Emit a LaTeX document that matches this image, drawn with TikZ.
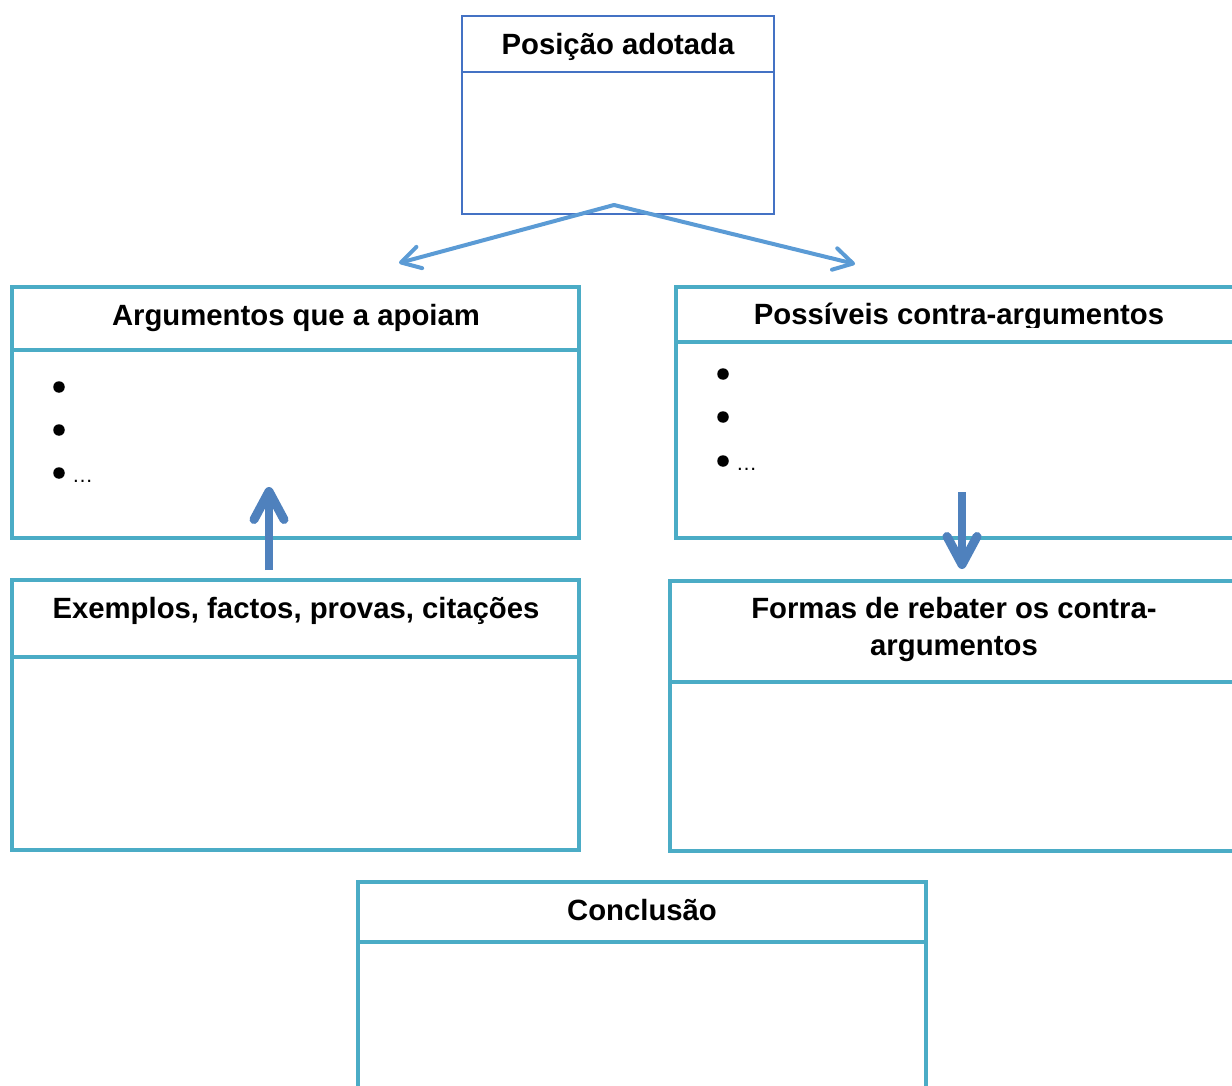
\documentclass[tikz,border=0pt]{standalone}
\usepackage{fontspec}
\setmainfont{Liberation Sans}
\usetikzlibrary{arrows.meta}
\definecolor{cyanb}{HTML}{4BACC6}
\definecolor{blueb}{HTML}{4472C4}
\definecolor{arrowl}{HTML}{5B9BD5}
\definecolor{arrowd}{HTML}{4F81BD}
\tikzset{
  cbox/.style={draw=cyanb, line width=4pt, rectangle, anchor=north west, inner sep=0pt, outer sep=0pt},
  bbox/.style={draw=blueb, line width=2.5pt, rectangle, anchor=north west, inner sep=0pt, outer sep=0pt},
  hline/.style={draw=cyanb, line width=4pt},
  hdr/.style={font=\fontsize{29.3}{37}\selectfont\bfseries, align=center, inner sep=0pt, anchor=base},
  bul/.style={circle, fill=black, minimum size=11.5pt, inner sep=0pt},
  dots/.style={font=\fontsize{21}{21}\selectfont, anchor=base west, inner sep=0pt},
  thinarrow/.style={draw=arrowl, line width=4pt, line cap=round, -{Straight Barb[length=19pt,width=22pt,line width=4pt,round]}},
  fatarrow/.style={draw=arrowd, line width=7.5pt, -{Straight Barb[length=28pt,width=30pt,line width=9pt,round]}},
}
\begin{document}
\begin{tikzpicture}[x=1pt,y=-1pt]
\useasboundingbox (0,0) rectangle (1232,1086);
\clip (0,0) rectangle (1232,1086);
% top box
\node[bbox, minimum width=312pt, minimum height=198pt] (top) at (462,16) {};
\draw[draw=blueb, line width=2.5pt] (top.west |- 0,72) -- (top.east |- 0,72);
\node[hdr] (toph) at (618,55) {Posição adotada};
% boxes
\node[cbox, minimum width=567.5pt, minimum height=251pt] (b1) at (11.5,287) {};
\draw[hline] (b1.west |- 0,350) -- (b1.east |- 0,350);
\node[hdr] (b1h) at (296,325) {Argumentos que a apoiam};
\node[cbox, minimum width=600pt, minimum height=251pt] (b2) at (676,287) {};
\node[hdr] (b2h) at (959,324) {Possíveis contra-argumentos};
\fill[white] (680,328) rectangle (1232,340);
\draw[hline] (b2.west |- 0,342) -- (b2.east |- 0,342);
\node[cbox, minimum width=567.5pt, minimum height=270pt] (b3) at (11.5,580) {};
\draw[hline] (b3.west |- 0,657) -- (b3.east |- 0,657);
\node[hdr] (b3h) at (296,618) {Exemplos, factos, provas, citações};
\node[cbox, minimum width=600pt, minimum height=270pt] (b4) at (670,581) {};
\draw[hline] (b4.west |- 0,682) -- (b4.east |- 0,682);
\node[hdr, anchor=north] (b4h) at (954,597) {Formas de rebater os contra-\\argumentos};
\node[cbox, minimum width=568pt, minimum height=260pt] (b5) at (358,882) {};
\draw[hline] (b5.west |- 0,942) -- (b5.east |- 0,942);
\node[hdr] (b5h) at (642,920) {Conclusão};
% bullets
\node[bul] (l1) at (59,387) {};
\node[bul] (l2) at (59,430) {};
\node[bul] (l3) at (59,473) {};
\node[dots] (l4) at (72,482) {…};
\node[bul] (r1) at (723,374) {};
\node[bul] (r2) at (723,417) {};
\node[bul] (r3) at (723,461) {};
\node[dots] (r4) at (736,470) {…};
% arrows
\coordinate (apex) at (614,205);
\coordinate (tl) at (399,263);
\coordinate (tr) at (855,264);
\draw[thinarrow] (apex) -- (tl);
\draw[thinarrow] (apex) -- (tr);
\coordinate (us) at (269,570);
\coordinate (ue) at (269,487);
\draw[fatarrow] (us) -- (ue);
\coordinate (ds) at (962,492);
\coordinate (de) at (962,569);
\draw[fatarrow] (ds) -- (de);
\end{tikzpicture}
\end{document}
